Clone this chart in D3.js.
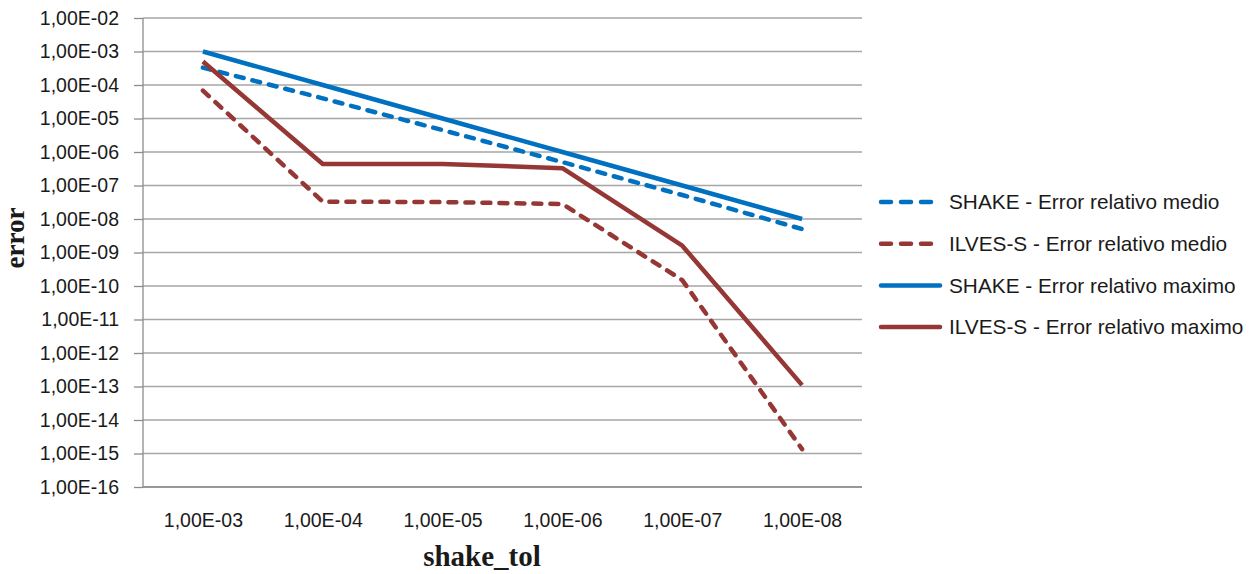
<!DOCTYPE html>
<html>
<head>
<meta charset="utf-8">
<script src="https://cdn.jsdelivr.net/npm/d3@7"></script>
<style>
  body { margin: 0; background: #fff; }
  text { font-family: "Liberation Sans", Arial, sans-serif; fill: #1a1a1a; }
  .grid line { stroke: #a6a6a6; stroke-width: 1.3; }
  .axis path, .axis line { stroke: #8c8c8c; stroke-width: 1.3; }
  .title { font-family: "Liberation Serif", "DejaVu Serif", serif; font-weight: bold; }
</style>
</head>
<body>
<div id="chart"></div>
<script>
// categories (shake_tol) and the four series (error)
var tolerances = ["1,00E-03", "1,00E-04", "1,00E-05", "1,00E-06", "1,00E-07", "1,00E-08"];
var shakeMedio = [3.3e-4, 4e-5, 4.5e-6, 5e-7, 5.2e-8, 5e-9];
var ilvesMedio = [6.8e-5, 3.3e-8, 3.2e-8, 2.8e-8, 1.5e-10, 1.35e-15];
var shakeMax   = [1e-3, 1e-4, 1e-5, 1e-6, 1e-7, 1e-8];
var ilvesMax   = [5e-4, 4.4e-7, 4.4e-7, 3.3e-7, 1.6e-9, 1.1e-13];
var yTicks = [1e-2, 1e-3, 1e-4, 1e-5, 1e-6, 1e-7, 1e-8, 1e-9, 1e-10, 1e-11, 1e-12, 1e-13, 1e-14, 1e-15, 1e-16];

var series = [
  { name: "SHAKE - Error relativo medio",   values: shakeMedio, colour: "#0070c0", dashed: true },
  { name: "ILVES-S - Error relativo medio", values: ilvesMedio, colour: "#953735", dashed: true },
  { name: "SHAKE - Error relativo maximo",  values: shakeMax,   colour: "#0070c0", dashed: false },
  { name: "ILVES-S - Error relativo maximo", values: ilvesMax,  colour: "#953735", dashed: false }
];

var W = 1253, H = 574;
var margin = { top: 18, right: 391, bottom: 87, left: 143 },
    width = W - margin.left - margin.right,
    height = H - margin.top - margin.bottom;

var svg = d3.select("#chart").append("svg")
    .attr("width", W)
    .attr("height", H);

var main = svg.append("g")
    .attr("transform", "translate(" + margin.left + "," + margin.top + ")");

// scales
var x = d3.scalePoint()
    .domain(tolerances)
    .range([0, width])
    .padding(0.5);
var y = d3.scaleLog()
    .domain([1e-16, 1e-2])
    .range([height, 0]);

// horizontal gridlines
main.append("g")
    .attr("class", "grid")
    .selectAll("line")
    .data(yTicks)
    .enter().append("line")
      .attr("x1", 0)
      .attr("x2", width)
      .attr("y1", function(d) { return y(d); })
      .attr("y2", function(d) { return y(d); });

// y axis
var fmt = function(d) {
  var e = Math.round(Math.log10(d));
  return "1,00E-" + (e < -9 ? "" : "0") + (-e);
};
var yAxis = d3.axisLeft(y)
    .tickValues(yTicks)
    .tickFormat(fmt)
    .tickSize(9)
    .tickPadding(15);
var yg = main.append("g")
    .attr("class", "axis")
    .call(yAxis);
yg.select(".domain").attr("d", "M0," + height + "V0");
yg.selectAll("text").style("font-size", "19.5px");

// x axis
var xAxis = d3.axisBottom(x)
    .tickSize(0)
    .tickPadding(26);
var xg = main.append("g")
    .attr("class", "axis")
    .attr("transform", "translate(0," + height + ")")
    .call(xAxis);
xg.select(".domain").attr("d", "M0,0H" + width);
xg.selectAll("text").style("font-size", "19.5px");

// lines
var line = d3.line()
    .x(function(d, i) { return x(tolerances[i]); })
    .y(function(d) { return y(d); });

main.append("g")
    .selectAll("path")
    .data(series)
    .enter().append("path")
      .attr("d", function(d) { return line(d.values); })
      .attr("fill", "none")
      .attr("stroke", function(d) { return d.colour; })
      .attr("stroke-width", 4.5)
      .attr("stroke-linecap", function(d) { return d.dashed ? "round" : "butt"; })
      .attr("stroke-linejoin", "round")
      .attr("stroke-dasharray", function(d) { return d.dashed ? "8,9" : null; });

// axis titles
svg.append("text")
    .attr("class", "title")
    .attr("x", 482)
    .attr("y", 566)
    .attr("text-anchor", "middle")
    .style("font-size", "29px")
    .text("shake_tol");
svg.append("text")
    .attr("class", "title")
    .attr("transform", "translate(24,238) rotate(-90)")
    .attr("text-anchor", "middle")
    .style("font-size", "27px")
    .text("error");

// legend
var legend = svg.append("g")
    .selectAll("g")
    .data(series)
    .enter().append("g")
      .attr("transform", function(d, i) { return "translate(881," + (202 + i * 41.7) + ")"; });
legend.append("line")
    .attr("x1", 0)
    .attr("x2", 59)
    .attr("stroke", function(d) { return d.colour; })
    .attr("stroke-width", 4.5)
    .attr("stroke-linecap", "round")
    .attr("stroke-dasharray", function(d) { return d.dashed ? "10,10" : null; });
legend.append("text")
    .attr("x", 68)
    .attr("dy", "0.35em")
    .style("font-size", "20.8px")
    .text(function(d) { return d.name; });
</script>
</body>
</html>
